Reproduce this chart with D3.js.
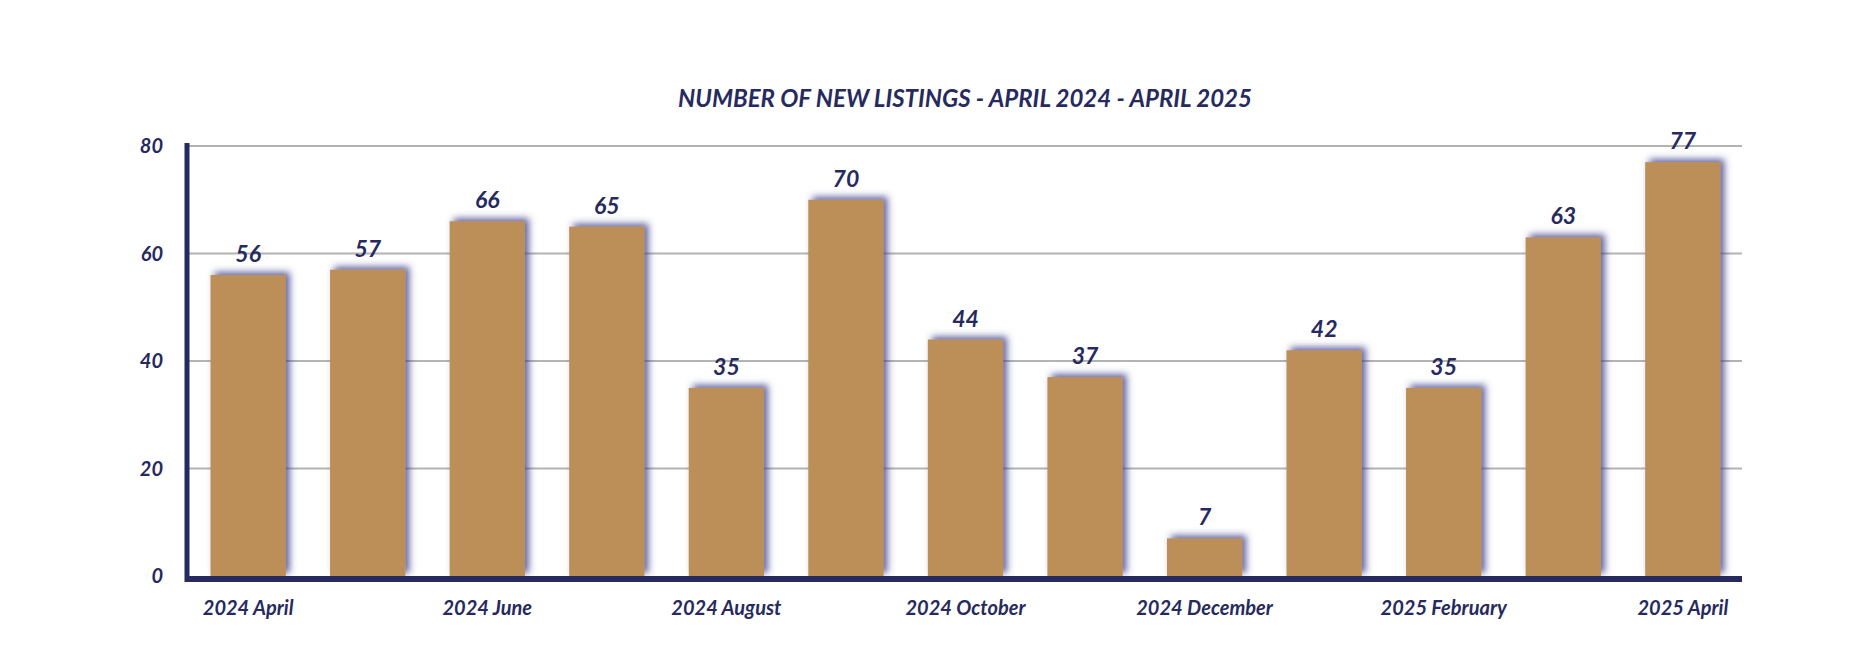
<!DOCTYPE html>
<html><head><meta charset="utf-8">
<script src="https://cdn.jsdelivr.net/npm/d3@7"></script>
<style>body{margin:0;background:#fff}svg text{font-family:Lato,"Open Sans",sans-serif;font-style:italic;font-weight:700;fill:#262a5e}</style>
</head><body><svg id="c" width="1852" height="666"></svg>
<script>
const categories=["2024 April","2024 May","2024 June","2024 July","2024 August","2024 September","2024 October","2024 November","2024 December","2025 January","2025 February","2025 March","2025 April"];
const values=[56,57,66,65,35,70,44,37,7,42,35,63,77];
const yTicks=[0,20,40,60,80];
const shownLabels=["2024 April","2024 June","2024 August","2024 October","2024 December","2025 February","2025 April"];
const navy="#262a5e", gold="#bc8f58";
const svg=d3.select("#c");
const L=189,R=1742,T=146,B=576;
const x=d3.scaleBand().domain(categories).range([L,R]).paddingInner(0.37).paddingOuter(0.18);
const y=d3.scaleLinear().domain([0,80]).range([B,T]);
const defs=svg.append("defs");
const f=defs.append("filter").attr("id","sh").attr("x","-30%").attr("y","-30%").attr("width","160%").attr("height","160%");
f.append("feDropShadow").attr("dx",4).attr("dy",-3).attr("stdDeviation",3.5).attr("flood-color","#3a3f8a").attr("flood-opacity",0.8);
svg.append("text").attr("x",965).attr("y",107).attr("text-anchor","middle").style("font-size","24px").text("NUMBER OF NEW LISTINGS - APRIL 2024 - APRIL 2025");
svg.append("g").selectAll("line").data(yTicks.filter(d=>d>0)).join("line")
 .attr("x1",L).attr("x2",R).attr("y1",d=>y(d)).attr("y2",d=>y(d)).attr("stroke","#b3b3b3").attr("stroke-width",2);
svg.append("g").selectAll("text").data(yTicks).join("text")
 .attr("x",163).attr("y",d=>y(d)+7).attr("text-anchor","end").style("font-size","20px").text(d=>d);
svg.append("g").selectAll("rect").data(values).join("rect")
 .attr("x",(d,i)=>x(categories[i])).attr("width",x.bandwidth()).attr("y",d=>y(d)).attr("height",d=>B-y(d))
 .attr("fill",gold).attr("filter","url(#sh)");
svg.append("g").selectAll("text").data(values).join("text")
 .attr("x",(d,i)=>x(categories[i])+x.bandwidth()/2).attr("y",d=>y(d)-13).attr("text-anchor","middle").style("font-size","23px").text(d=>d);
svg.append("line").attr("x1",L-2).attr("x2",L-2).attr("y1",T-3).attr("y2",B+6).attr("stroke",navy).attr("stroke-width",5);
svg.append("line").attr("x1",L-4).attr("x2",R).attr("y1",B+3).attr("y2",B+3).attr("stroke",navy).attr("stroke-width",6);
svg.append("g").selectAll("text").data(shownLabels).join("text")
 .attr("x",d=>x(d)+x.bandwidth()/2).attr("y",615).attr("text-anchor","middle").style("font-size","20px").text(d=>d);
</script></body></html>
